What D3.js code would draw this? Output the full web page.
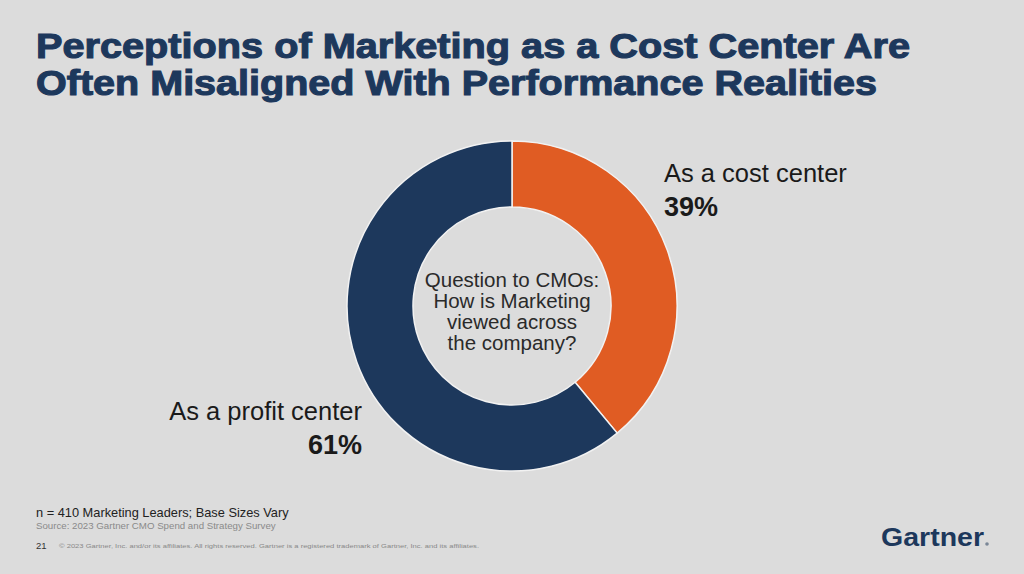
<!DOCTYPE html>
<html>
<head>
<meta charset="utf-8">
<script src="https://cdn.jsdelivr.net/npm/d3@7"></script>
<style>
  html, body { margin: 0; padding: 0; background: #dcdcdc; }
  svg { display: block; font-family: "Liberation Sans", Arial, sans-serif; }
</style>
</head>
<body>
<div id="chart"></div>
<script>
const width = 1024;
const height = 574;

// data
const categories = ['As a cost center', 'As a profit center'];
const shares = [39, 61];
const colors = ['#e05c23', '#1d385c'];
const titleLines = [
  'Perceptions of Marketing as a Cost Center Are',
  'Often Misaligned With Performance Realities',
];
const centerLines = ['Question to CMOs:', 'How is Marketing', 'viewed across', 'the company?'];

const svg = d3.select('#chart').append('svg')
  .attr('width', width).attr('height', height);

svg.append('rect').attr('width', width).attr('height', height).attr('fill', '#dcdcdc');

// title
svg.selectAll('.title')
  .data(titleLines)
  .enter()
  .append('text')
  .attr('class', 'title')
  .attr('x', 36)
  .attr('y', (d, i) => 58 + i * 37)
  .attr('fill', '#1d385c')
  .attr('stroke', '#1d385c')
  .attr('stroke-width', 1.1)
  .style('font-size', '34.5px')
  .style('font-weight', 'bold')
  .attr('textLength', (d, i) => i === 0 ? 874 : 841)
  .attr('lengthAdjust', 'spacingAndGlyphs')
  .text((d) => d);

// donut
const cx = 512; const cy = 306;
const outer = 165; const inner = 99;
const pie = d3.pie().sort(null).value((d) => d);
const arc = d3.arc().innerRadius(inner).outerRadius(outer);
const g = svg.append('g').attr('transform', `translate(${cx},${cy})`);

g.selectAll('path')
  .data(pie(shares))
  .enter()
  .append('path')
  .attr('d', arc)
  .attr('fill', (d, i) => colors[i])
  .attr('stroke', '#f2f2f2')
  .attr('stroke-width', 1.5);

g.selectAll('.center')
  .data(centerLines)
  .enter()
  .append('text')
  .attr('class', 'center')
  .attr('text-anchor', 'middle')
  .attr('y', (d, i) => -19 + i * 21)
  .attr('fill', '#2a2a2a')
  .style('font-size', '20.5px')
  .text((d) => d);

// labels
const labels = [
  {x: 664, y: 182, anchor: 'start'},
  {x: 362, y: 420, anchor: 'end'},
];
labels.forEach((l, i) => {
  svg.append('text')
    .attr('x', l.x).attr('y', l.y)
    .attr('text-anchor', l.anchor)
    .attr('fill', '#1a1a1a')
    .style('font-size', '25.5px')
    .text(categories[i]);
  svg.append('text')
    .attr('x', l.x).attr('y', l.y + 34)
    .attr('text-anchor', l.anchor)
    .attr('fill', '#1a1a1a')
    .style('font-size', '27px')
    .style('font-weight', 'bold')
    .text(shares[i] + '%');
});

// footer
svg.append('text').attr('x', 36).attr('y', 517)
  .attr('fill', '#222').style('font-size', '12.8px')
  .text('n = 410 Marketing Leaders; Base Sizes Vary');
svg.append('text').attr('x', 36).attr('y', 529)
  .attr('fill', '#8a8a8a').style('font-size', '9.7px')
  .text('Source: 2023 Gartner CMO Spend and Strategy Survey');
svg.append('text').attr('x', 36).attr('y', 549)
  .attr('fill', '#333').style('font-size', '9.5px')
  .text('21');
svg.append('text').attr('x', 59).attr('y', 548)
  .attr('fill', '#888').style('font-size', '5.5px')
  .attr('textLength', 420).attr('lengthAdjust', 'spacingAndGlyphs')
  .text('© 2023 Gartner, Inc. and/or its affiliates. All rights reserved. Gartner is a registered trademark of Gartner, Inc. and its affiliates.');

svg.append('text').attr('x', 881).attr('y', 546)
  .attr('fill', '#1d385c').style('font-size', '26px').style('font-weight', 'bold')
  .attr('textLength', 103).attr('lengthAdjust', 'spacingAndGlyphs')
  .text('Gartner');
svg.append('circle').attr('cx', 987).attr('cy', 544).attr('r', 1.8).attr('fill', '#7a8797');
</script>
</body>
</html>
